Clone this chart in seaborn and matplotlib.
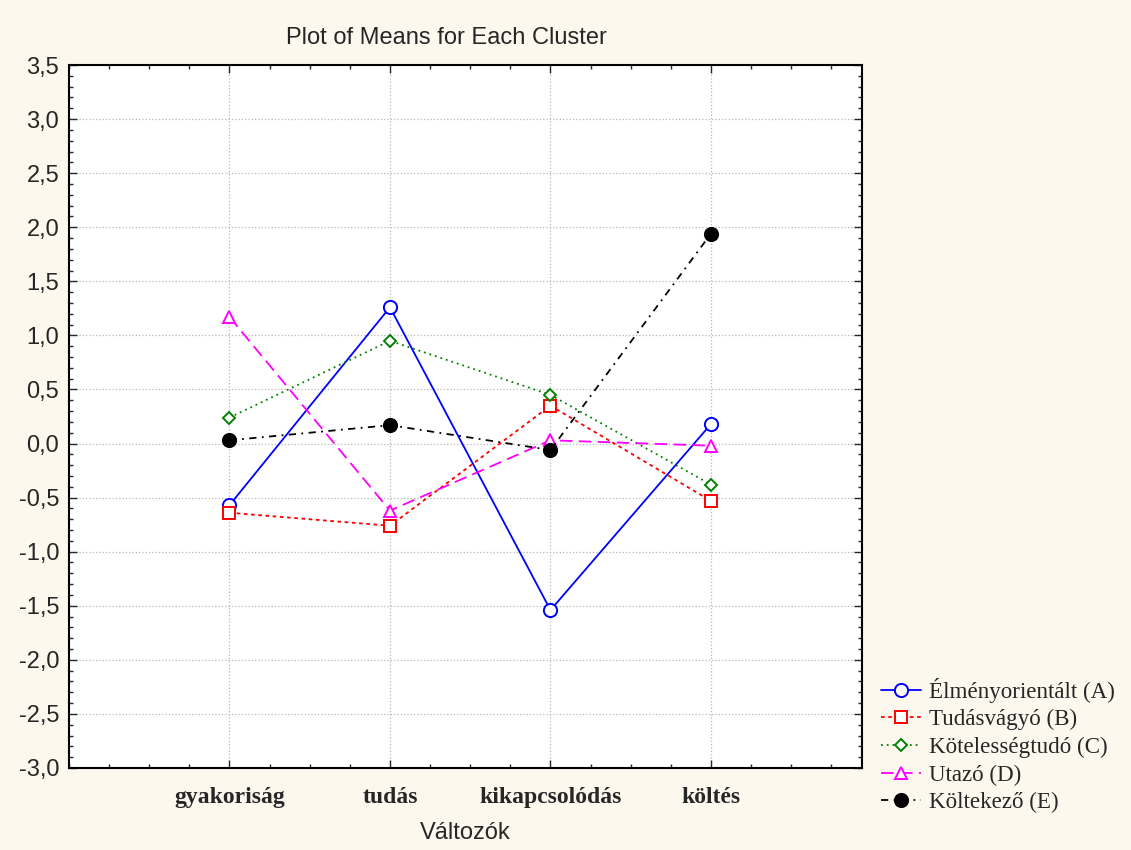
import matplotlib
matplotlib.use("Agg")
import matplotlib.pyplot as plt
from matplotlib.ticker import MultipleLocator, FixedLocator, FuncFormatter
import seaborn as sns
import pandas as pd

# Cluster means per variable
variables = ["gyakoriság", "tudás", "kikapcsolódás", "költés"]
clusters = ["Élményorientált (A)", "Tudásvágyó (B)", "Kötelességtudó (C)",
            "Utazó (D)", "Költekező (E)"]
means_a = [-0.57, 1.26, -1.54, 0.18]
means_b = [-0.64, -0.76, 0.35, -0.53]
means_c = [0.24, 0.95, 0.45, -0.38]
means_d = [1.17, -0.62, 0.03, -0.02]
means_e = [0.03, 0.17, -0.06, 1.94]
series = [means_a, means_b, means_c, means_d, means_e]

rows = []
for name, vals in zip(clusters, series):
    for i, v in enumerate(vals):
        rows.append({"cluster": name, "pos": i, "mean": v})
df = pd.DataFrame(rows)

sns.set_theme(style="white")
plt.rcParams["font.family"] = ["Liberation Sans", "DejaVu Sans"]

bg = "#fdf8ee"
fig = plt.figure(figsize=(11.31, 8.5), dpi=100, facecolor=bg)
ax = fig.add_axes([0.061, 0.0965, 0.701, 0.827])
ax.set_facecolor("white")

styles = {
    clusters[0]: dict(color="#0000ff", marker="o", mfc="white", ms=9.5, dashes=None),
    clusters[1]: dict(color="#ff0000", marker="s", mfc="white", ms=9, dashes=(2, 2)),
    clusters[2]: dict(color="#008000", marker="D", mfc="white", ms=6.5, dashes=(1, 2.2)),
    clusters[3]: dict(color="#ff00ff", marker="^", mfc="white", ms=9, dashes=(7, 3.5)),
    clusters[4]: dict(color="#000000", marker="o", mfc="black", ms=9.5, dashes=(4, 3, 1, 3)),
}

for name in clusters:
    st = styles[name]
    sub = df[df["cluster"] == name]
    sns.lineplot(data=sub, x="pos", y="mean", ax=ax, color=st["color"],
                 marker=st["marker"], markersize=st["ms"],
                 markerfacecolor=st["mfc"], markeredgecolor=st["color"],
                 markeredgewidth=1.4, linewidth=1.3, label=name,
                 legend=False, zorder=3)
    line = ax.lines[-1]
    if st["dashes"] is not None:
        line.set_dashes(st["dashes"])

ax.set_xlim(-1, 3.94)
ax.set_ylim(-3.0, 3.5)
ax.xaxis.set_major_locator(FixedLocator(range(len(variables))))
ax.xaxis.set_minor_locator(MultipleLocator(0.25))
ax.set_xticklabels(variables, fontfamily="Liberation Serif",
                   fontweight="bold", fontsize=17)
ax.yaxis.set_major_locator(MultipleLocator(0.5))
ax.yaxis.set_minor_locator(MultipleLocator(0.1))
ax.yaxis.set_major_formatter(FuncFormatter(lambda v, p: f"{v:.1f}".replace(".", ",")))
ax.tick_params(axis="y", which="major", labelsize=17, direction="in",
               length=6, width=1, left=True, right=True, pad=7)
ax.tick_params(axis="y", which="minor", direction="in", length=3,
               left=True, right=True)
ax.tick_params(axis="x", which="major", direction="in", length=6, width=1,
               bottom=True, top=True, pad=14)
ax.tick_params(axis="x", which="minor", direction="in", length=3,
               bottom=True, top=True)

ax.grid(True, which="major", color="#b8b8b8", linestyle=":", linewidth=0.9)
for sp in ax.spines.values():
    sp.set_color("black")
    sp.set_linewidth(1.5)

ax.set_xlabel("Változók", fontsize=17, labelpad=10)
ax.set_ylabel("")
ax.set_title("Plot of Means for Each Cluster", fontsize=17, pad=15, x=0.476)

handles = ax.lines[:len(clusters)]
leg = fig.legend(handles, clusters, loc="upper left",
                 bbox_to_anchor=(0.7705, 0.2135), frameon=False,
                 prop={"family": "Liberation Serif", "size": 16.6},
                 handlelength=1.75, handletextpad=0.35, labelspacing=0.28,
                 borderaxespad=0)

fig.savefig("out.png", dpi=100, facecolor=bg)
